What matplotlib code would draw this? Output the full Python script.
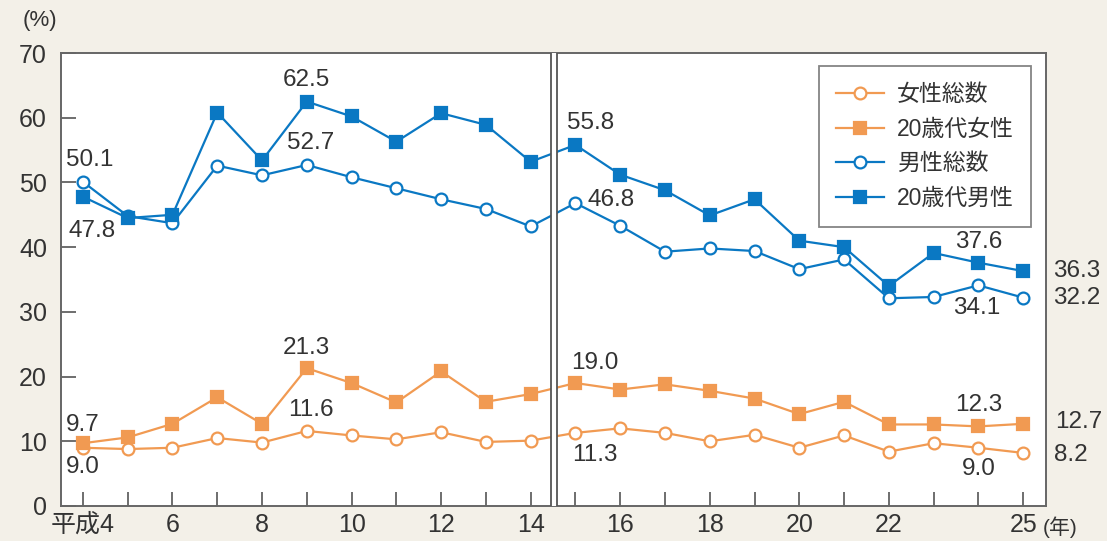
import matplotlib.pyplot as plt

plt.rcParams["font.family"] = ["Liberation Sans", "Noto Sans CJK JP"]

# Data (Heisei years 4-25)
years = list(range(4, 26))
female_total = [9.0, 8.8, 9.0, 10.5, 9.8, 11.6, 10.9, 10.3, 11.4, 9.9, 10.1,
                11.3, 12.0, 11.3, 10.0, 11.0, 9.0, 10.9, 8.4, 9.7, 9.0, 8.2]
female_20s = [9.7, 10.6, 12.7, 16.8, 12.7, 21.3, 19.0, 16.0, 20.8, 16.1, 17.3,
              19.0, 18.0, 18.8, 17.8, 16.6, 14.2, 16.1, 12.6, 12.6, 12.3, 12.7]
male_total = [50.1, 44.8, 43.7, 52.6, 51.1, 52.7, 50.8, 49.1, 47.4, 45.9, 43.2,
              46.8, 43.3, 39.3, 39.8, 39.4, 36.6, 38.1, 32.1, 32.3, 34.1, 32.2]
male_20s = [47.8, 44.5, 45.0, 60.8, 53.4, 62.5, 60.2, 56.3, 60.7, 58.9, 53.2,
            55.8, 51.2, 48.8, 44.9, 47.4, 41.0, 40.0, 34.0, 39.1, 37.6, 36.3]
series_names = ["女性総数", "20歳代女性", "男性総数", "20歳代男性"]
tick_years = [4, 6, 8, 10, 12, 14, 16, 18, 20, 22, 25]
tick_labels = ["平成4", "6", "8", "10", "12", "14", "16", "18", "20", "22", "25"]

orange = "#f19a52"
blue = "#0a78c3"
text_c = "#333333"
bg = "#f3f0e8"

fig = plt.figure(figsize=(11.07, 5.41), dpi=100, facecolor=bg)
ax = fig.add_axes([0.0551, 0.0647, 0.8898, 0.8373])
ax.set_facecolor("white")

style = dict(lw=1.6, ms=8.5, mew=1.6)
ax.plot(years, female_total, color=orange, marker="o", mfc="white", mec=orange, label=series_names[0], **style)
ax.plot(years, female_20s, color=orange, marker="s", mfc=orange, mec=orange, label=series_names[1], **style)
ax.plot(years, male_total, color=blue, marker="o", mfc="white", mec=blue, label=series_names[2], **style)
ax.plot(years, male_20s, color=blue, marker="s", mfc=blue, mec=blue, label=series_names[3], **style)

ax.set_xlim(3.51, 25.51)
ax.set_ylim(0, 70)

# break marker between 14 and 15
ax.axvspan(14.456, 14.59, color="white", zorder=4, lw=0)
for xb in (14.456, 14.59):
    ax.axvline(xb, color="#555555", lw=1.3, zorder=5)

ax.set_yticks(range(0, 71, 10))
ax.set_xticks(years)
ax.set_xticklabels([tick_labels[tick_years.index(y)] if y in tick_years else "" for y in years])
ax.tick_params(axis="y", direction="in", length=11, width=1.2, color="#555555",
               labelsize=18, labelcolor=text_c, pad=10)
ax.tick_params(axis="x", direction="in", length=10, width=1.2, color="#555555",
               labelsize=18, labelcolor=text_c, pad=5)
for s in ax.spines.values():
    s.set_color("#666666")
    s.set_linewidth(1.4)

ax.annotate("(年)", xy=(25, 0), xytext=(14, -15), textcoords="offset points",
            ha="left", va="center", fontsize=15, color=text_c, annotation_clip=False)
fig.text(0.02, 0.963, "(%)", fontsize=16, color=text_c, ha="left", va="center")

# value labels: offsets in points
def label(vals, i, dx, dy, ha="center"):
    ax.annotate(f"{vals[i]:.1f}", xy=(years[i], vals[i]), xytext=(dx, dy),
                textcoords="offset points", ha=ha, va="center", fontsize=17.5,
                color=text_c, annotation_clip=False)

label(male_total, 0, 5, 16)
label(male_20s, 0, 6.5, -25)
label(male_20s, 5, 0, 15.6)
label(male_total, 5, 3, 16)
label(male_20s, 11, 11, 15.6)
label(male_total, 11, 9, 2.4, ha="left")
label(male_20s, 20, 0, 15)
label(male_total, 20, -1, -16)
label(male_20s, 21, 21.5, 0, ha="left")
label(male_total, 21, 21.5, 0, ha="left")
label(female_20s, 0, 0, 13)
label(female_total, 0, 0, -13.6)
label(female_20s, 5, 0, 14.4)
label(female_total, 5, 2.7, 15)
label(female_20s, 11, 14, 14.4)
label(female_total, 11, 14, -16)
label(female_20s, 20, 0, 15.6)
label(female_total, 20, 0, -15.6)
label(female_20s, 21, 23, 1, ha="left")
label(female_total, 21, 22, -1.7, ha="left")

leg = ax.legend(loc="upper right", bbox_to_anchor=(0.9848, 0.9713), fontsize=16.5,
                frameon=True, fancybox=False, handlelength=2.1, borderpad=0.75,
                labelspacing=0.5, handletextpad=0.55, borderaxespad=0)
leg.get_frame().set_edgecolor("#666666")
leg.get_frame().set_linewidth(1.3)
for t in leg.get_texts():
    t.set_color(text_c)

fig.savefig("out.png", dpi=100, facecolor=bg)
